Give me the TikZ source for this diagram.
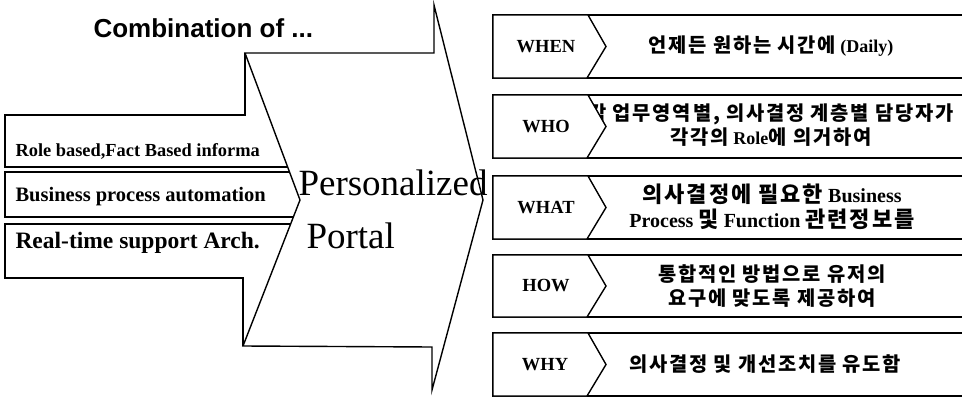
\documentclass[tikz,border=0pt]{standalone}
\usepackage{fontspec}
\setmainfont{Liberation Serif}
\newfontfamily\headfont{Liberation Sans}
\newfontfamily\krfont{Noto Sans CJK KR Bold}[Scale=1.1, LetterSpace=9]
\newcommand{\K}[1]{{\krfont #1}}
\usetikzlibrary{calc}

\tikzset{
    outline/.style={draw, line width=1.4pt, line join=miter},
    headtext/.style={anchor=base west, font=\headfont\bfseries\fontsize{26}{28}\selectfont},
    sidetext/.style={anchor=base west, font=\bfseries},
    bigtext/.style={anchor=base west, font=\fontsize{37}{40}\selectfont},
    tagtext/.style={font=\bfseries\fontsize{18.5}{20}\selectfont},
    desctext/.style={font=\bfseries\fontsize{18}{24.5}\selectfont, align=center},
}

\begin{document}
\begin{tikzpicture}[x=1pt, y=-1pt]
        \useasboundingbox (0,0) rectangle (962,399);
        \coordinate (notch) at (300,200);
        \coordinate (tip) at (483,200);
        \path [outline] (245,53) -- (434,53) -- (434,5) -- (tip) -- (432,390) -- (432,347) -- (243,346) -- (notch) -- cycle;
        \path [outline] (287.7,167) -- (5,167) -- (5,115) -- (245,115) -- (245,53);
        \path [outline] (289.5,172) -- (5,172) -- (5,217) -- (293.4,217);
        \path [outline] (290.6,224) -- (5,224) -- (5,278) -- (243,278) -- (243,346);
        \node [headtext] (comb) at (90,37) {Combination of ...};
        \node [sidetext, font=\bfseries\fontsize{18.4}{20}\selectfont] (role) at (12,156) {Role based,Fact Based informa};
        \node [sidetext, font=\bfseries\fontsize{20.5}{22}\selectfont] (bpa) at (12,201) {Business process automation};
        \node [sidetext, font=\bfseries\fontsize{23.5}{25}\selectfont] (rts) at (12,248) {Real-time support Arch.};
        \node [bigtext] (pers) at (295,195) {Personalized};
        \node [bigtext] (portal) at (303,248) {Portal};
        % WHEN
        \path [outline] (970,15) -- (493,15) -- (493,78) -- (970,78);
        \node [desctext] (whentxt) at (771,46.5) {\K{언제든 원하는 시간에} (Daily)};
        \path [outline, fill=white] (493,15) -- (588,15) -- (606,46.5) -- (587,78) -- (493,78) -- cycle;
        \node [tagtext] (when) at (546,46.5) {WHEN};
        % WHO
        \path [outline] (970,95) -- (493,95) -- (493,158) -- (970,158);
        \node [desctext] (whotxt) at (771,125) {\K{각 업무영역별, 의사결정 계층별 담당자가}\\\K{각각의} Role\K{에 의거하여}};
        \path [outline, fill=white] (493,95) -- (588,95) -- (606,126.5) -- (587,158) -- (493,158) -- cycle;
        \node [tagtext] (who) at (546,126.5) {WHO};
        % WHAT
        \path [outline] (970,176) -- (493,176) -- (493,239) -- (970,239);
        \node [desctext, font=\bfseries\fontsize{20}{24.5}\selectfont] (whattxt) at (772,207) {\K{의사결정에 필요한} Business\\Process \K{및} Function \K{관련정보를}};
        \path [outline, fill=white] (493,176) -- (588,176) -- (606,207.5) -- (587,239) -- (493,239) -- cycle;
        \node [tagtext] (what) at (546,207.5) {WHAT};
        % HOW
        \path [outline] (970,255) -- (493,255) -- (493,317) -- (970,317);
        \node [desctext] (howtxt) at (772,286) {\K{통합적인 방법으로 유저의}\\\K{요구에 맞도록 제공하여}};
        \path [outline, fill=white] (493,255) -- (588,255) -- (606,286) -- (587,317) -- (493,317) -- cycle;
        \node [tagtext] (how) at (546,286) {HOW};
        % WHY
        \path [outline] (970,333) -- (493,333) -- (493,396) -- (970,396);
        \node [desctext] (whytxt) at (765,364.5) {\K{의사결정 및 개선조치를 유도함}};
        \path [outline, fill=white] (493,333) -- (588,333) -- (606,364.5) -- (587,396) -- (493,396) -- cycle;
        \node [tagtext] (why) at (545,364.5) {WHY};
\end{tikzpicture}
\end{document}
